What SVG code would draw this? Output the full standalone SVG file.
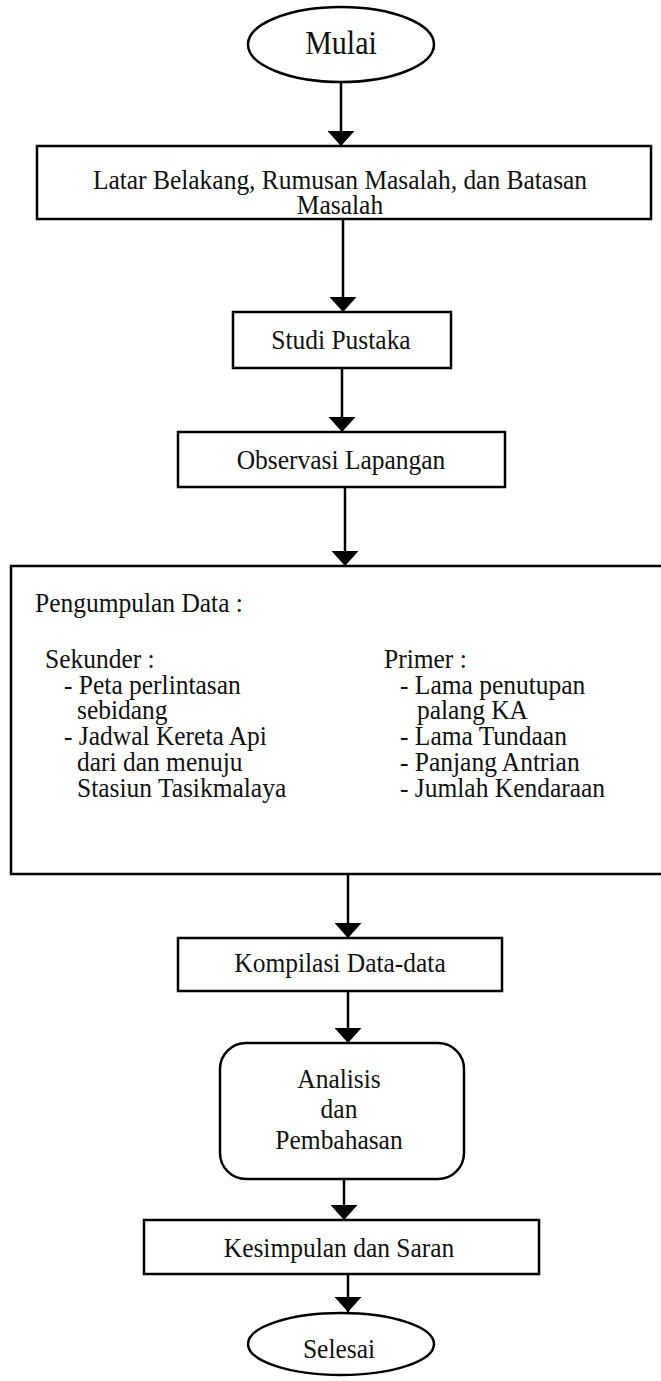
<svg xmlns="http://www.w3.org/2000/svg" width="661" height="1381" viewBox="0 0 661 1381">
<defs>
<style>
.n{fill:#fff;stroke:#000;stroke-width:2.5}
.t{font-family:"Liberation Serif","Times New Roman",serif;font-size:28px;fill:#111}
.big{font-size:33px}
.c{text-anchor:middle}
.e{stroke:#000;stroke-width:2.5;fill:none}
</style>
<marker id="ah" viewBox="0 0 15 27" refX="15" refY="13.5" markerWidth="15" markerHeight="27" markerUnits="userSpaceOnUse" orient="auto-start-reverse">
<path d="M0,0 L15,13.5 L0,27 Z" fill="#000"/>
</marker>
</defs>
<rect width="661" height="1381" fill="#fff"/>
<g id="connectors">
<path class="e" d="M341,82 V146" marker-end="url(#ah)"/>
<path class="e" d="M343,219 V312" marker-end="url(#ah)"/>
<path class="e" d="M342,368 V432" marker-end="url(#ah)"/>
<path class="e" d="M345,487 V566" marker-end="url(#ah)"/>
<path class="e" d="M348,874 V938" marker-end="url(#ah)"/>
<path class="e" d="M348,991 V1043" marker-end="url(#ah)"/>
<path class="e" d="M344,1179 V1220" marker-end="url(#ah)"/>
<path class="e" d="M348,1274 V1312" marker-end="url(#ah)"/>
</g>
<g id="mulai">
<ellipse class="n" cx="341" cy="44.5" rx="93" ry="37.5"/>
<text class="t big c" transform="translate(341 54) scale(0.91 1)">Mulai</text>
</g>
<g id="latar">
<rect class="n" x="37" y="146" width="614" height="73"/>
<text class="t c" transform="translate(340 189) scale(0.91 1)">Latar Belakang, Rumusan Masalah, dan Batasan</text>
<text class="t c" transform="translate(340 214) scale(0.91 1)">Masalah</text>
</g>
<g id="studi">
<rect class="n" x="233" y="312" width="218" height="56"/>
<text class="t c" transform="translate(341 349) scale(0.91 1)">Studi Pustaka</text>
</g>
<g id="observasi">
<rect class="n" x="178" y="432" width="327" height="55"/>
<text class="t c" transform="translate(341 469) scale(0.91 1)">Observasi Lapangan</text>
</g>
<g id="pengumpulan">
<path class="n" d="M663,566 H11 V874 H663"/>
<text class="t" transform="translate(35 612) scale(0.91 1)">Pengumpulan Data :</text>
<text class="t" transform="translate(45 668) scale(0.91 1)">Sekunder :</text>
<text class="t" transform="translate(64 694) scale(0.91 1)">- Peta perlintasan</text>
<text class="t" transform="translate(77 719) scale(0.91 1)">sebidang</text>
<text class="t" transform="translate(64 745) scale(0.91 1)">- Jadwal Kereta Api</text>
<text class="t" transform="translate(77 771) scale(0.91 1)">dari dan menuju</text>
<text class="t" transform="translate(77 797) scale(0.91 1)">Stasiun Tasikmalaya</text>
<text class="t" transform="translate(384 668) scale(0.91 1)">Primer :</text>
<text class="t" transform="translate(400 694) scale(0.91 1)">- Lama penutupan</text>
<text class="t" transform="translate(417 719) scale(0.91 1)">palang KA</text>
<text class="t" transform="translate(400 745) scale(0.91 1)">- Lama Tundaan</text>
<text class="t" transform="translate(400 771) scale(0.91 1)">- Panjang Antrian</text>
<text class="t" transform="translate(400 797) scale(0.91 1)">- Jumlah Kendaraan</text>
</g>
<g id="kompilasi">
<rect class="n" x="178" y="938" width="324" height="53"/>
<text class="t c" transform="translate(340 972) scale(0.91 1)">Kompilasi Data-data</text>
</g>
<g id="analisis">
<rect class="n" x="220" y="1043" width="244" height="136" rx="26" ry="26"/>
<text class="t c" transform="translate(339 1088) scale(0.91 1)">Analisis</text>
<text class="t c" transform="translate(339 1118) scale(0.91 1)">dan</text>
<text class="t c" transform="translate(339 1149) scale(0.91 1)">Pembahasan</text>
</g>
<g id="kesimpulan">
<rect class="n" x="144" y="1220" width="395" height="54"/>
<text class="t c" transform="translate(339 1257) scale(0.91 1)">Kesimpulan dan Saran</text>
</g>
<g id="selesai">
<ellipse class="n" cx="341" cy="1344" rx="93" ry="31"/>
<text class="t c" transform="translate(339 1358) scale(0.91 1)">Selesai</text>
</g>
</svg>
